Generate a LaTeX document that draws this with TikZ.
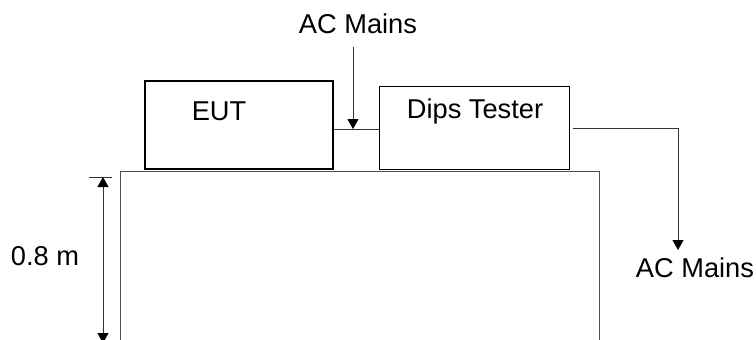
\documentclass[tikz,border=0pt]{standalone}
\usepackage{fontspec}
\setmainfont{Liberation Sans}
\usetikzlibrary{arrows.meta, positioning, calc}
\definecolor{wiregrey}{HTML}{333333}
\definecolor{tablegrey}{HTML}{505050}

\begin{document}
\begin{tikzpicture}[x=0.02cm, y=-0.02cm,
  every node/.style={font=\fontsize{15.5}{18}\selectfont},
  thickbox/.style={rectangle, draw=black, line width=1.1pt, inner sep=0pt},
  thinbox/.style={rectangle, draw=black, line width=0.6pt, inner sep=0pt},
  wire/.style={draw=wiregrey, line width=0.55pt},
  tip/.tip={Triangle[width=0.22cm, length=0.2cm, black]},
  feed/.style={wire, -tip},
  caption/.style={anchor=base, inner sep=0pt}]
\useasboundingbox (0,0) rectangle (756,339);
\clip (0,0) rectangle (756,339);

% bench
\draw[draw=tablegrey, line width=0.55pt] (120.7,345) |- (599,171) -- (599,345);

% units on the bench
\node[thickbox, minimum width=3.76cm, minimum height=1.76cm, anchor=north west] (eut) at (144,80) {};
\node[caption] (eutlabel) at (219,120) {EUT};
\node[thinbox, minimum width=3.8cm, minimum height=1.66cm, anchor=north west] (dips) at (379,86) {};
\node[caption] (dipslabel) at (475,118) {Dips Tester};

% supply side
\node[caption] (mainsin) at (358,33) {AC Mains};
\coordinate (tapstart) at (353,47);
\coordinate (tap) at (353,129);
\draw[wire] ([yshift=-0.1cm]eut.east) -- ([yshift=-0.1cm]eut.east -| dips.west);
\draw[feed] (tapstart) -- (tap);

\node[caption] (mainsout) at (695,277) {AC Mains};
\coordinate (drop) at (678,250);
\draw[feed] ([xshift=0.06cm]dips.east) -| (drop);

% height of the bench
\coordinate (dimtop) at (103,177);
\coordinate (dimbot) at (103,343);
\draw[wire] (89,177) -- (112,177);
\draw[wire, tip-tip] (dimtop) -- (dimbot);
\node[caption] (height) at (45,265) {0.8 m};
\end{tikzpicture}
\end{document}
